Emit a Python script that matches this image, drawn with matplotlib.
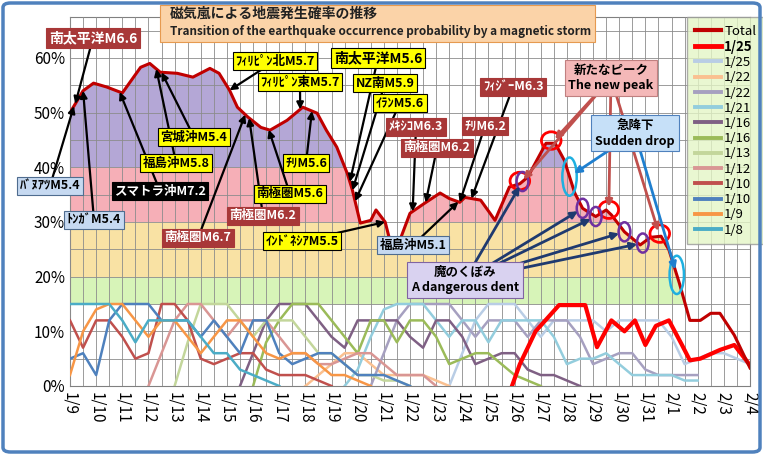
import numpy as np
import matplotlib
matplotlib.use("Agg")
import matplotlib.pyplot as plt
from matplotlib.patches import Ellipse, FancyBboxPatch
from matplotlib.lines import Line2D

JP = "Noto Sans CJK JP"
plt.rcParams["font.family"] = [JP, "DejaVu Sans"]

# ---------------- data ----------------
date_labels = ["1/9","1/10","1/11","1/12","1/13","1/14","1/15","1/16","1/17","1/18","1/19",
               "1/20","1/21","1/22","1/23","1/24","1/25","1/26","1/27","1/28","1/29","1/30",
               "1/31","2/1","2/2","2/3","2/4"]

total_days = [0,0.5,0.9,1.4,2,2.7,3.05,3.45,4.1,4.7,5.35,5.7,6.1,6.4,6.8,7.3,7.65,8.3,8.9,9.45,
              9.8,10.2,10.6,10.8,11.1,11.5,11.7,12.05,12.2,12.6,13.0,13.58,14.15,14.5,14.9,15.1,
              15.7,16.06,16.25,16.8,17.2,17.5,18.2,18.55,18.9,19.3,19.6,20.1,20.5,20.7,21.2,21.8,
              22.2,22.6,22.9,23.3,23.7,24.1,24.5,24.85,25.4,26]
total = [50,54,55.4,54.7,53.6,58.3,59,57.4,57.2,56.5,58.1,57.2,54.1,51,49.2,47.3,46.8,48.6,51,49.9,
         46.8,43.7,38.9,35.8,29.8,30.3,32.2,30,27.2,26.5,31.6,33.5,35.3,34.3,33.6,34.5,
         34,31.6,30.3,36.4,37,38.2,44.4,44.4,41.3,35.3,32.5,31,32.2,31.3,28.2,25.8,
         27.2,27.4,24.9,18.8,12,12,13.3,13.3,9.3,3.3]

d125_days = [16.9,17.2,17.5,17.8,18.7,19.7,20.15,20.7,21.2,21.6,22,22.4,22.9,23.4,23.7,24.1,24.85,25.4,26]
d125 = [0,4,7,10,14.8,14.8,7.1,12,10,12,7.5,11,12,7.5,4.7,5,6.6,7.5,3.8]

series_names = ["1/25","1/22","1/22","1/21","1/16","1/16","1/13","1/12","1/10","1/10","1/9","1/8"]
series_colors = ["#B9CDE5","#FAC090","#A6A0C0","#93CDDD","#7F6084","#9BBB59","#C3D69B","#D99694",
                 "#C0504D","#4F81BD","#F79646","#4BACC6"]
series_start = [14.5, 9, 11.5, 10.5, 6.5, 7, 4, 3, 0, 0, 0, -0.5]
series_vals = [
    [0,6,12,15,15,15,12,9,12,12,12,12,10,12,12,12,12,9,4,5,6,6,5,4],
    [0,2,4,6,6,4,2,2,2,2,1,0],
    [0,6,12,15,15,15,15,12,9,12,12,12,9,12,12,12,9,4,5,6,6,3,2,2,2,2],
    [0,3,9,14,15,15,15,12,9,12,12,8,12,12,12,12,9,4,5,5,6,4,2,2,2,2,1,1],
    [0,6,12,15,15,15,12,9,7,12,12,12,12,9,7,12,12,9,4,5,6,6,3,2,2,1,0],
    [0,8,12,15,15,15,12,9,6,12,12,8,12,12,9,4,5,6,6,4,2,1,0],
    [0,8,15,15,15,12,9,12,12,12,9,6,6,4,2,2,1,1,0],
    [0,6,12,15,15,12,9,12,12,12,9,6,6,4,4,5,6,6,4,2,2,2,0],
    [12,7,12,12,9,5,6,15,15,12,5,4,5,6,6,3,2,2,2,1,0],
    [5,6,2,12,15,15,15,12,12,12,9,12,9,6,12,12,6,4,5,6,6,4,2,2,2,1,0],
    [2,10,14,15,15,12,9,12,12,9,6,9,12,12,9,6,5,6,6,4,2,2,1,0],
    [12,15,15,15,15,12,8,12,12,12,12,9,6,6,3,2,1,0],
]

# ---------------- figure ----------------
W, H = 763, 455
fig = plt.figure(figsize=(W/100, H/100), dpi=100)
fig.patch.set_facecolor("white")
fig.add_artist(FancyBboxPatch((3/W, 3/H), (W-6)/W, (H-6)/H, boxstyle="round,pad=0,rounding_size=0.01",
                              transform=fig.transFigure, fc="none", ec="#4F81BD", lw=2.5, zorder=20))

x0, x1 = 70, 750
y0px, y60px = 386, 58
ypp = (y0px - y60px) / 60.0
ytop = 67.5
ax = fig.add_axes([x0/W, (H-y0px)/H, (x1-x0)/W, (ytop*ypp)/H])
ax.set_xlim(0, 26)
ax.set_ylim(0, ytop)

def P(px, py):
    return ((px - x0) / ((x1 - x0) / 26.0), (y0px - py) / ypp)

td = np.array(total_days); tv = np.array(total)
xf = np.linspace(0, 26, 2000)
yf = np.interp(xf, td, tv)
bands = [(15, 20, "#D7F4B8"), (20, 30, "#F9E2A4"), (30, 40, "#F6AFB7"), (40, 70, "#B4A7D6")]
for lo, hi, c in bands:
    ax.fill_between(xf, lo, np.clip(yf, lo, hi), where=yf > lo, color=c, lw=0, zorder=1)

ax.set_xticks(range(27))
ax.set_xticklabels(date_labels, rotation=270, fontsize=11, va="top")
ax.set_xticks(np.arange(0.5, 26, 1), minor=True)
ax.set_yticks(range(0, 61, 10))
ax.set_yticklabels([f"{v}%" for v in range(0, 61, 10)], fontsize=11)
ax.set_yticks(range(5, 66, 10), minor=True)
ax.grid(True, which="both", color="#8C8C8C", lw=0.6, zorder=2)
ax.tick_params(which="both", length=0)
ax.tick_params(axis="x", pad=4)
for s in ax.spines.values():
    s.set_color("#808080")
ax.set_axisbelow(False)

handles = []
for name, col, st, vals in zip(series_names, series_colors, series_start, series_vals):
    xs = st + 0.5*np.arange(len(vals))
    ax.plot(xs, vals, color=col, lw=1.8, zorder=3, clip_on=True)
    handles.append(Line2D([], [], color=col, lw=2.8, label=name))

ax.plot(d125_days, d125, color="#FF0000", lw=3, zorder=4)
ax.plot(total_days, total, color="#C00000", lw=2.2, zorder=5)

h_total = Line2D([], [], color="#C00000", lw=3, label="Total")
h_125 = Line2D([], [], color="#FF0000", lw=3.5, label="1/25")
leg = fig.legend(handles=[h_total, h_125] + handles, loc="upper left",
                 bbox_to_anchor=(682/W, 1-12/H), fontsize=9.5, frameon=True,
                 handlelength=2.0, labelspacing=0.17, borderpad=0.45, handletextpad=0.25)
leg.get_frame().set_facecolor("#E4F5C6"); leg.get_frame().set_edgecolor("#999999")
leg.get_frame().set_boxstyle("square,pad=0.1")
leg.set_zorder(15)
leg.get_texts()[1].set_fontweight("bold")

def tv_at(d):
    return float(np.interp(d, td, tv))

styles = {
    "y": dict(fc="#FFFF00", ec="#000000", tc="black"),
    "r": dict(fc="#A83838", ec="#A83838", tc="white"),
    "b": dict(fc="#C6D9F1", ec="#4F6C8F", tc="black"),
    "k": dict(fc="#000000", ec="#000000", tc="white"),
}

def label(text, px, py, st, targets, fs=9):
    s = styles[st]
    tx, ty = P(px, py)
    ax.text(tx, ty, text, ha="center", va="center", fontsize=fs, fontweight="bold", color=s["tc"],
            zorder=8, bbox=dict(boxstyle="square,pad=0.2", fc=s["fc"], ec=s["ec"], lw=0.8))
    for d in targets:
        ax.annotate("", xy=(d, tv_at(d)), xytext=(tx, ty), zorder=7,
                    arrowprops=dict(arrowstyle="-|>", color="black", lw=1.6, shrinkA=6, shrinkB=0,
                                    mutation_scale=10))

label("南太平洋M6.6", 93, 38, "r", [0.2], fs=10)
label("ﾊﾞﾇｱﾂM5.4", 50, 186, "b", [0.15])
label("ﾄﾝｶﾞM5.4", 94, 220, "b", [0.5])
label("スマトラ沖M7.2", 160, 191, "k", [1.9])
label("福島沖M5.8", 176, 163, "y", [3.3])
label("宮城沖M5.4", 194, 137, "y", [3.5])
label("ﾌｨﾘﾋﾟﾝ北M5.7", 275, 61, "y", [6.1])
label("ﾌｨﾘﾋﾟﾝ東M5.7", 300, 82, "y", [8.8])
label("南極圏M6.7", 198, 238, "r", [6.7])
label("南極圏M6.2", 263, 216, "r", [6.85])
label("南極圏M5.6", 290, 194, "y", [7.6])
label("ﾁﾘM5.6", 306, 163, "y", [9.25])
label("南太平洋M5.6", 378, 58, "y", [10.7], fs=10)
label("NZ南M5.9", 385, 83, "y", [10.8])
label("ｲﾗﾝM5.6", 400, 103, "y", [10.9])
label("ﾒｷｼｺM6.3", 416, 127, "r", [13.1])
label("南極圏M6.2", 437, 148, "r", [13.6])
label("ﾁﾘM6.2", 485, 126, "r", [14.9])
label("ﾌｨｼﾞｰM6.3", 513, 87, "r", [15.35])
label("ｲﾝﾄﾞﾈｼｱM5.5", 302, 241, "y", [12.05])
label("福島沖M5.1", 413, 245, "b", [14.85])

def multi(lines, px, py, fc, ec, col, targets, fs=9):
    tx, ty = P(px, py)
    ax.text(tx, ty, lines, ha="center", va="center", fontsize=fs, fontweight="bold", color="black",
            zorder=9, linespacing=1.3, bbox=dict(boxstyle="square,pad=0.3", fc=fc, ec=ec, lw=0.8))
    for d in targets:
        ax.annotate("", xy=(d, tv_at(d)), xytext=(tx, ty), zorder=7,
                    arrowprops=dict(arrowstyle="-|>", color=col, lw=2, shrinkA=8, shrinkB=4,
                                    mutation_scale=10))

peaks = [17.2, 18.4, 20.6, 22.55]
drops = [19.1, 23.2]
dents = [17.3, 19.6, 20.1, 21.2, 21.9]
multi("新たなピーク\nThe new peak", 611, 78, "#F4B8B8", "#C08080", "#C0504D", peaks)
multi("急降下\nSudden drop", 635, 133, "#C6E0F8", "#4F81BD", "#1F7FCF", drops)
multi("魔のくぼみ\nA dangerous dent", 465, 280, "#D9D2F0", "#8064A2", "#1F3A6F", dents)

for d in peaks:
    ax.add_patch(Ellipse((d, tv_at(d)+0.5), 0.75, 3.2, fill=False, ec="red", lw=2, zorder=6))
for d in drops:
    ax.add_patch(Ellipse((d, tv_at(d)), 0.55, 7, fill=False, ec="#1FB0E0", lw=1.8, zorder=6))
for d in dents:
    ax.add_patch(Ellipse((d, tv_at(d)), 0.45, 3.5, fill=False, ec="#7030A0", lw=1.8, zorder=6))

# title box
fig.add_artist(FancyBboxPatch((160/W, 1-42/H), 435/W, 37/H, boxstyle="square,pad=0",
                              transform=fig.transFigure, fc="#FBD3A8", ec="#E69A50", lw=0.8, zorder=10))
fig.text(170/W, 1-14/H, "磁気嵐による地震発生確率の推移", fontsize=10, fontweight="bold",
         color="#222222", va="center", zorder=11)
fig.text(170/W, 1-32/H, "Transition of the earthquake occurrence probability by a magnetic storm",
         fontsize=8.5, fontweight="bold", color="#222222", va="center", zorder=11)

fig.savefig("out.png", dpi=100)
